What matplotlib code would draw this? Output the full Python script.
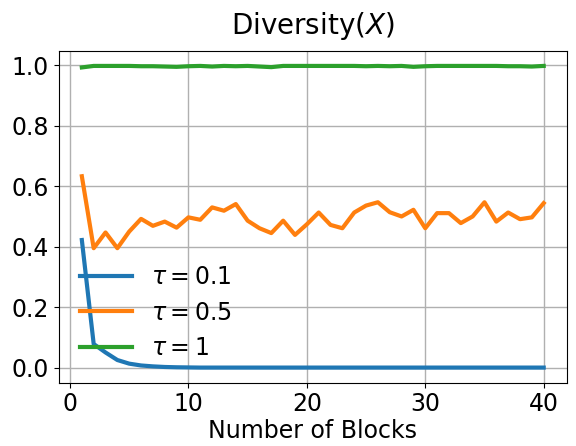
import numpy as np
import matplotlib
matplotlib.use("Agg")
import matplotlib.pyplot as plt

blocks = np.arange(1, 41)

div_01 = [0.422, 0.078, 0.05, 0.025, 0.013, 0.007, 0.004, 0.002, 0.001, 0.0005,
          0, 0, 0, 0, 0, 0, 0, 0, 0, 0,
          0, 0, 0, 0, 0, 0, 0, 0, 0, 0,
          0, 0, 0, 0, 0, 0, 0, 0, 0, 0]

div_05 = [0.633, 0.395, 0.447, 0.395, 0.45, 0.492, 0.469, 0.483, 0.463, 0.497,
          0.489, 0.53, 0.519, 0.541, 0.486, 0.461, 0.445, 0.486, 0.439, 0.474,
          0.513, 0.472, 0.461, 0.513, 0.536, 0.547, 0.514, 0.50, 0.522, 0.461,
          0.511, 0.511, 0.478, 0.50, 0.547, 0.483, 0.513, 0.491, 0.497, 0.544]

div_1 = [0.993, 0.998, 0.998, 0.998, 0.998, 0.997, 0.997, 0.996, 0.995, 0.997,
         0.998, 0.996, 0.998, 0.997, 0.998, 0.996, 0.994, 0.998, 0.998, 0.998,
         0.998, 0.998, 0.998, 0.998, 0.997, 0.998, 0.997, 0.998, 0.995, 0.997,
         0.998, 0.998, 0.998, 0.998, 0.998, 0.998, 0.997, 0.997, 0.996, 0.998]

labels = [r"$\tau = 0.1$", r"$\tau = 0.5$", r"$\tau = 1$"]

fig = plt.figure(figsize=(5.76, 4.46), dpi=100)
ax = fig.add_axes([0.102, 0.142, 0.882, 0.744])
for ys, lab in zip([div_01, div_05, div_1], labels):
    ax.plot(blocks, ys, linewidth=3, label=lab)

ax.grid(True, color="#b0b0b0", linewidth=1)
ax.set_xticks([0, 10, 20, 30, 40])
ax.set_yticks([0.0, 0.2, 0.4, 0.6, 0.8, 1.0])
ax.tick_params(labelsize=17)
ax.set_xlabel("Number of Blocks", fontsize=17, labelpad=2)
ax.set_title(r"Diversity($X$)", fontsize=20, pad=12)
ax.legend(loc="lower left", bbox_to_anchor=(0, 0.003), frameon=False,
          fontsize=17, handlelength=2.2, labelspacing=0.5)

fig.savefig("out.png", dpi=100)
